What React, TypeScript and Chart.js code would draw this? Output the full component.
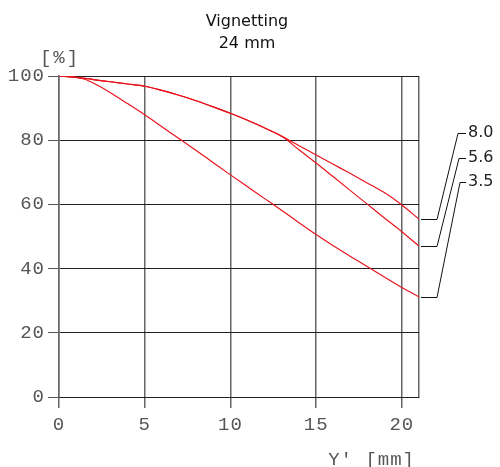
import React, { useEffect, useRef } from 'react';
import { Chart, registerables } from 'chart.js';

Chart.register(...registerables);

const X_VALUES = [0, 1, 1.5, 2, 3, 4, 5, 6, 7, 8, 9, 10, 11, 12, 13, 14, 15, 16, 17, 18, 19, 20, 21];
const F80 = [100, 99.6, 99.3, 98.9, 98.2, 97.5, 96.8, 95.5, 94.0, 92.3, 90.4, 88.4, 86.2, 83.8, 81.2, 78.3, 75.4, 72.5, 69.6, 66.6, 63.6, 59.8, 55.4];
const F56 = [100, 99.6, 99.3, 98.9, 98.2, 97.5, 96.8, 95.5, 94.0, 92.3, 90.4, 88.4, 86.2, 83.8, 81.2, 77.0, 72.9, 68.6, 64.3, 60.0, 55.7, 51.5, 47.0];
const F35 = [100, 99.6, 99.0, 97.8, 94.8, 91.4, 87.9, 84.2, 80.5, 76.8, 73.0, 69.2, 65.5, 61.8, 58.1, 54.3, 50.6, 47.1, 43.8, 40.6, 37.3, 34.1, 31.2];
const SERIES_LABELS = ['8.0', '5.6', '3.5'];
const X_TICKS = [0, 5, 10, 15, 20];
const X_MAX = 21;
const Y_TICKS = [0, 20, 40, 60, 80, 100];
const TITLE_LINES = ['Vignetting', '24 mm'];
const Y_UNIT = '[%]';
const X_UNIT = "Y' [mm]";

const RED = '#e8141c';
const MONO = "'Liberation Mono', monospace";
const SANS = "'DejaVu Sans', sans-serif";

const annotations = {
  id: 'annotations',
  beforeDraw(chart: any) {
    chart.ctx.letterSpacing = '1px';
  },
  afterDatasetsDraw(chart: any) {
    const ctx = chart.ctx;
    const xs = chart.scales.x;
    const ys = chart.scales.y;
    const top = chart.chartArea.top;
    ctx.save();
    ctx.letterSpacing = '0px';
    ctx.strokeStyle = '#111';
    ctx.lineWidth = 1;
    ctx.fillStyle = '#222';
    ctx.font = `16px ${SANS}`;
    ctx.textAlign = 'left';
    ctx.textBaseline = 'middle';
    chart.data.datasets.forEach((ds: any, i: number) => {
      const last = ds.data[ds.data.length - 1];
      const px = xs.getPixelForValue(last.x);
      const py = ys.getPixelForValue(last.y);
      const ly = top + 57 + i * 24.5;
      ctx.beginPath();
      ctx.moveTo(px + 2, Math.round(py) + 0.5);
      ctx.lineTo(px + 18, Math.round(py) + 0.5);
      ctx.lineTo(px + 39 + i, Math.round(ly) + 0.5);
      ctx.lineTo(px + 47, Math.round(ly) + 0.5);
      ctx.stroke();
      ctx.fillText(SERIES_LABELS[i], px + 49, ly);
    });
    ctx.restore();
  },
  afterDraw(chart: any) {
    const ctx = chart.ctx;
    ctx.save();
    ctx.letterSpacing = '0px';
    ctx.fillStyle = '#111';
    ctx.font = `16px ${SANS}`;
    ctx.textAlign = 'center';
    ctx.textBaseline = 'middle';
    ctx.fillText(TITLE_LINES[0], 247, 22);
    ctx.fillText(TITLE_LINES[1], 247, 44);
    ctx.letterSpacing = '2px';
    ctx.fillStyle = '#555';
    ctx.font = `19px ${MONO}`;
    ctx.textAlign = 'center';
    ctx.fillText(Y_UNIT, 60, 58);
    ctx.letterSpacing = '1px';
    ctx.textAlign = 'right';
    ctx.fillText(X_UNIT, 415, 460);
    ctx.restore();
    ctx.letterSpacing = '0px';
  },
};

export default function App() {
  const ref = useRef<HTMLCanvasElement | null>(null);
  useEffect(() => {
    if (!ref.current) return;
    const mk = (vals: number[]) => X_VALUES.map((x, i) => ({ x, y: vals[i] }));
    const dsBase = {
      borderColor: RED,
      borderWidth: 1.2,
      pointRadius: 0,
      fill: false,
      cubicInterpolationMode: 'monotone' as const,
    };
    const chart = new Chart(ref.current, {
      type: 'line',
      data: {
        datasets: [
          { ...dsBase, label: SERIES_LABELS[0], data: mk(F80) },
          { ...dsBase, label: SERIES_LABELS[1], data: mk(F56) },
          { ...dsBase, label: SERIES_LABELS[2], data: mk(F35) },
        ],
      },
      options: {
        animation: false,
        responsive: true,
        maintainAspectRatio: false,
        layout: { padding: { left: 0, right: 81, top: 76, bottom: 0 } },
        plugins: { legend: { display: false }, tooltip: { enabled: false }, title: { display: false } },
        scales: {
          x: {
            type: 'linear',
            min: 0,
            max: X_MAX,
            afterBuildTicks: (s: any) => {
              s.ticks = [...X_TICKS, X_MAX].map((v) => ({ value: v }));
            },
            afterFit: (s: any) => {
              s.height = 70;
            },
            grid: {
              color: '#666',
              lineWidth: 1.5,
              tickLength: 11,
              tickColor: (c: any) => (c.tick && c.tick.value === X_MAX ? 'rgba(0,0,0,0)' : '#666'),
            },
            border: { color: '#222', width: 1 },
            ticks: {
              autoSkip: false,
              maxRotation: 0,
              padding: 6,
              color: '#555',
              font: { family: MONO, size: 19 },
              callback: (v: any) => (X_TICKS.includes(Number(v)) ? String(v) : ''),
            },
          },
          y: {
            type: 'linear',
            min: 0,
            max: 100,
            afterBuildTicks: (s: any) => {
              s.ticks = Y_TICKS.map((v) => ({ value: v }));
            },
            afterFit: (s: any) => {
              s.width = 59;
            },
            grid: { color: '#222', lineWidth: 1, tickLength: 11, tickColor: '#555' },
            border: { color: '#666', width: 1.5 },
            ticks: {
              autoSkip: false,
              padding: 3,
              color: '#555',
              font: { family: MONO, size: 19 },
              callback: (v: any) => String(v),
            },
          },
        },
      },
      plugins: [annotations],
    });
    return () => chart.destroy();
  }, []);
  return (
    <div style={{ position: 'fixed', left: 0, top: 0, width: 500, height: 467, background: '#fff' }}>
      <canvas ref={ref} />
    </div>
  );
}
